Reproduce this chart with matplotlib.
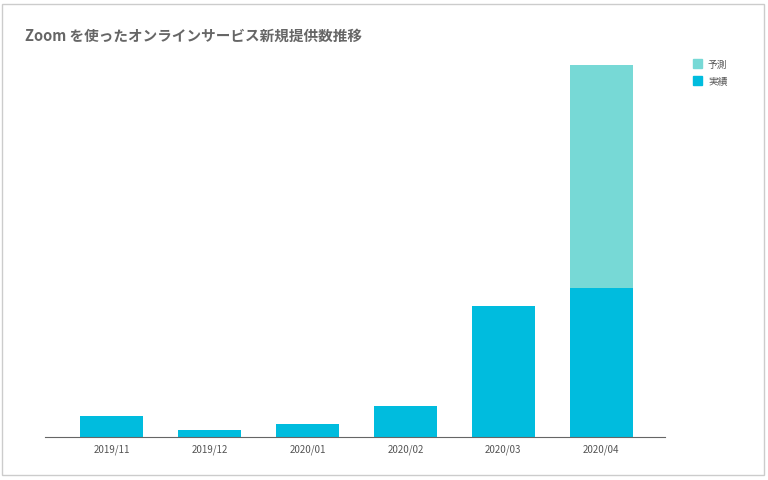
import matplotlib
matplotlib.use("Agg")
import matplotlib.pyplot as plt
from matplotlib.patches import Rectangle

plt.rcParams['font.family'] = ['Noto Sans CJK JP', 'DejaVu Sans']

categories = ["2019/11", "2019/12", "2020/01", "2020/02", "2020/03", "2020/04"]
actual = [21, 7, 13, 31, 131, 149]
forecast = [0, 0, 0, 0, 0, 223]
c_act = "#00BCDE"
c_fc = "#77D9D6"

fig = plt.figure(figsize=(7.68, 4.81), dpi=100)
fig.patches.append(Rectangle((2/768, 5/481), 762/768, 471/481, transform=fig.transFigure,
                             fill=False, edgecolor="#cccccc", lw=1))
ax = fig.add_axes([45/768, 1-438/481, 620/768, 380/481])
x = range(len(categories))
ax.bar(x, actual, width=0.65, color=c_act, label="実績")
ax.bar(x, forecast, bottom=actual, width=0.65, color=c_fc, label="予測")
ax.set_xlim(-0.68, 5.65)
ax.set_ylim(0, 380)
ax.set_xticks(list(x))
ax.set_xticklabels(categories, fontsize=7, color="#555555")
ax.tick_params(axis='x', length=0, pad=5)
ax.set_yticks([])
for s in ["top", "right", "left"]:
    ax.spines[s].set_visible(False)
ax.spines["bottom"].set_color("#666666")

fig.text(25/768, 1-36/481, "Zoom を使ったオンラインサービス新規提供数推移", fontsize=10.5,
         fontweight="bold", color="#666666", va="center")
for i, (lab, c) in enumerate([("予測", c_fc), ("実績", c_act)]):
    y = 1-(65+17*i)/481
    fig.patches.append(Rectangle((693/768, y-4/481), 9/768, 9/481, transform=fig.transFigure,
                                 color=c))
    fig.text(708/768, y, lab, fontsize=7, color="#555555", va="center")

fig.savefig("out.png", dpi=100)
